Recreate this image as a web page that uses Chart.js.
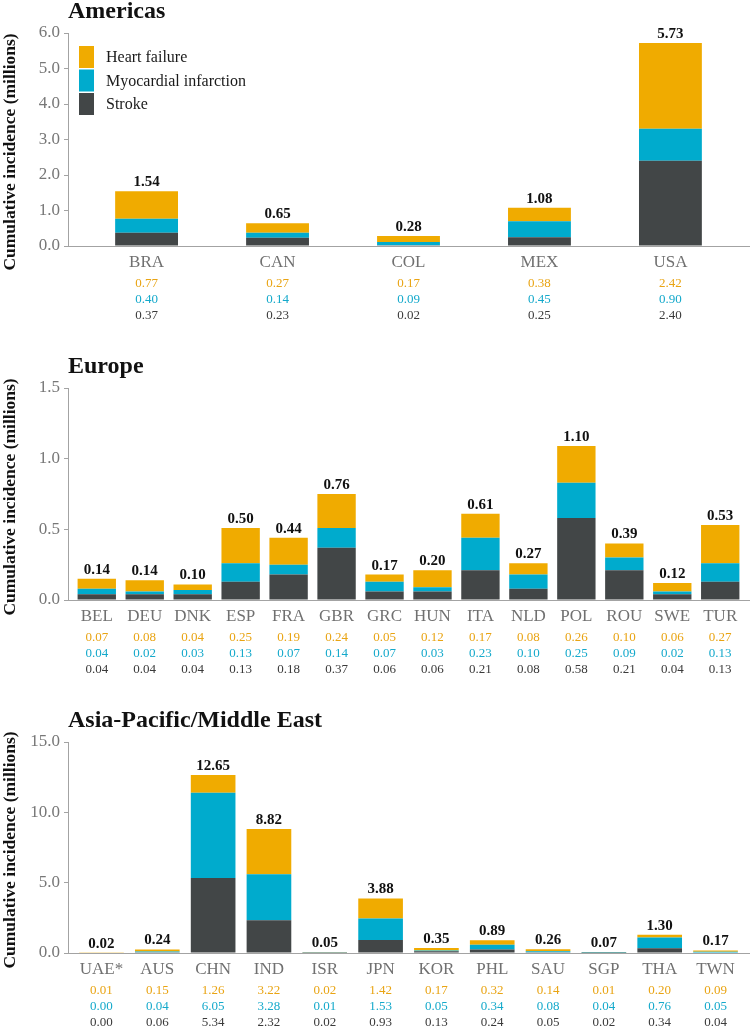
<!DOCTYPE html>
<html><head><meta charset="utf-8">
<script src="https://cdn.jsdelivr.net/npm/chart.js@4"></script>
<style>html,body{margin:0;padding:0;background:#fff;} canvas{position:absolute;left:0;}</style>
</head><body>
<canvas id="c1" style="top:0px" width="750" height="330"></canvas>
<canvas id="c2" style="top:330px" width="750" height="360"></canvas>
<canvas id="c3" style="top:690px" width="750" height="340"></canvas>
<script>
// ---------- DATA ----------
const seriesNames = ['Heart failure', 'Myocardial infarction', 'Stroke'];

const americasCategories = ['BRA', 'CAN', 'COL', 'MEX', 'USA'];
const americasHeartFailure = [0.77, 0.27, 0.17, 0.38, 2.42];
const americasMI = [0.40, 0.14, 0.09, 0.45, 0.90];
const americasStroke = [0.37, 0.23, 0.02, 0.25, 2.40];
const americasTotals = [1.54, 0.65, 0.28, 1.08, 5.73];
const americasYTicks = [0, 1, 2, 3, 4, 5, 6];

const europeCategories = ['BEL', 'DEU', 'DNK', 'ESP', 'FRA', 'GBR', 'GRC', 'HUN', 'ITA', 'NLD', 'POL', 'ROU', 'SWE', 'TUR'];
const europeHeartFailure = [0.07, 0.08, 0.04, 0.25, 0.19, 0.24, 0.05, 0.12, 0.17, 0.08, 0.26, 0.10, 0.06, 0.27];
const europeMI = [0.04, 0.02, 0.03, 0.13, 0.07, 0.14, 0.07, 0.03, 0.23, 0.10, 0.25, 0.09, 0.02, 0.13];
const europeStroke = [0.04, 0.04, 0.04, 0.13, 0.18, 0.37, 0.06, 0.06, 0.21, 0.08, 0.58, 0.21, 0.04, 0.13];
const europeTotals = [0.14, 0.14, 0.10, 0.50, 0.44, 0.76, 0.17, 0.20, 0.61, 0.27, 1.10, 0.39, 0.12, 0.53];
const europeYTicks = [0, 0.5, 1.0, 1.5];

const asiaCategories = ['UAE*', 'AUS', 'CHN', 'IND', 'ISR', 'JPN', 'KOR', 'PHL', 'SAU', 'SGP', 'THA', 'TWN'];
const asiaHeartFailure = [0.01, 0.15, 1.26, 3.22, 0.02, 1.42, 0.17, 0.32, 0.14, 0.01, 0.20, 0.09];
const asiaMI = [0.00, 0.04, 6.05, 3.28, 0.01, 1.53, 0.05, 0.34, 0.08, 0.04, 0.76, 0.05];
const asiaStroke = [0.00, 0.06, 5.34, 2.32, 0.02, 0.93, 0.13, 0.24, 0.05, 0.02, 0.34, 0.04];
const asiaTotals = [0.02, 0.24, 12.65, 8.82, 0.05, 3.88, 0.35, 0.89, 0.26, 0.07, 1.30, 0.17];
const asiaYTicks = [0, 5, 10, 15];

// ---------- STYLE ----------
const SERIF = '"Liberation Serif", "Times New Roman", serif';
const BAR = { hf: '#F0AB00', mi: '#00ABCD', stroke: '#424647' };
const TXT = { hf: '#E9A413', mi: '#14A9CB', stroke: '#3a3a3a' };
const AXIS = '#a3a3a3';

function pts(values) { return values.map((v, i) => ({ x: i, y: v })); }

function textPlugin(p) {
  return {
    id: 'texts',
    afterDraw(chart) {
      const ctx = chart.ctx;
      const xs = chart.scales.x;
      const area = chart.chartArea;
      ctx.save();
      // Title
      ctx.fillStyle = '#111';
      ctx.font = 'bold 24px ' + SERIF;
      ctx.textAlign = 'left';
      ctx.textBaseline = 'alphabetic';
      ctx.fillText(p.title, area.left, area.top - 15);
      // Y axis title
      ctx.save();
      ctx.translate(10, p.yTitleCenter);
      ctx.rotate(-Math.PI / 2);
      ctx.font = 'bold 17.5px ' + SERIF;
      ctx.textAlign = 'center';
      ctx.textBaseline = 'middle';
      ctx.fillText('Cumulative incidence (millions)', 0, 0);
      ctx.restore();
      // totals above bars
      const topMeta = chart.getDatasetMeta(2);
      ctx.font = 'bold 15px ' + SERIF;
      ctx.fillStyle = '#111';
      ctx.textAlign = 'center';
      ctx.textBaseline = 'alphabetic';
      p.totals.forEach((t, i) => {
        const el = topMeta.data[i];
        ctx.fillText(t.toFixed(2), el.x, el.y - 5);
      });
      // category labels and value rows
      ctx.textBaseline = 'middle';
      p.categories.forEach((c, i) => {
        const x = xs.getPixelForValue(i);
        ctx.font = '17px ' + SERIF;
        ctx.fillStyle = '#707070';
        ctx.fillText(c, x, area.bottom + 17);
        ctx.font = '13px ' + SERIF;
        ctx.fillStyle = TXT.hf;
        ctx.fillText(p.hf[i].toFixed(2), x, area.bottom + 37.5);
        ctx.fillStyle = TXT.mi;
        ctx.fillText(p.mi[i].toFixed(2), x, area.bottom + 53.5);
        ctx.fillStyle = TXT.stroke;
        ctx.fillText(p.stroke[i].toFixed(2), x, area.bottom + 69.5);
      });
      // legend
      if (p.legend) {
        const items = [[seriesNames[0], BAR.hf], [seriesNames[1], BAR.mi], [seriesNames[2], BAR.stroke]];
        ctx.font = '16px ' + SERIF;
        ctx.textAlign = 'left';
        items.forEach((it, k) => {
          const y0 = 46 + k * 23.5;
          ctx.fillStyle = it[1];
          ctx.fillRect(79, y0, 15, 22);
          ctx.fillStyle = '#1a1a1a';
          ctx.fillText(it[0], 106, y0 + 12);
        });
      }
      ctx.restore();
    }
  };
}

function makePanel(id, p) {
  const canvas = document.getElementById(id);
  const H = canvas.height;
  const n = p.categories.length;
  new Chart(canvas, {
    type: 'bar',
    data: {
      datasets: [
        { label: seriesNames[2], data: pts(p.stroke), backgroundColor: BAR.stroke },
        { label: seriesNames[1], data: pts(p.mi), backgroundColor: BAR.mi },
        { label: seriesNames[0], data: pts(p.hf), backgroundColor: BAR.hf }
      ]
    },
    options: {
      responsive: false,
      animation: false,
      layout: { padding: { top: p.top, right: 1, left: 0, bottom: 0 } },
      plugins: { legend: { display: false }, tooltip: { enabled: false }, title: { display: false } },
      datasets: { bar: { barPercentage: 0.8, categoryPercentage: 1, borderWidth: 0 } },
      scales: {
        x: {
          type: 'linear', stacked: true, offset: false, min: -0.6, max: n - 0.4,
          ticks: { display: false }, grid: { display: false },
          border: { display: true, color: AXIS, width: 1 },
          afterFit(s) { s.height = H - p.bottom; }
        },
        y: {
          stacked: true, min: 0, max: p.yTicks[p.yTicks.length - 1],
          afterBuildTicks(s) { s.ticks = p.yTicks.map(v => ({ value: v })); },
          ticks: { callback: v => Number(v).toFixed(1), color: '#777', font: { family: SERIF, size: 17 }, padding: 4 },
          grid: { drawOnChartArea: false, drawTicks: true, tickLength: 4, color: AXIS },
          border: { display: true, color: AXIS, width: 1 },
          afterFit(s) { s.width = 68; }
        }
      }
    },
    plugins: [textPlugin(p)]
  });
}

makePanel('c1', { title: 'Americas', categories: americasCategories, hf: americasHeartFailure, mi: americasMI, stroke: americasStroke, totals: americasTotals, yTicks: americasYTicks, top: 33, bottom: 246, yTitleCenter: 152, legend: true });
makePanel('c2', { title: 'Europe', categories: europeCategories, hf: europeHeartFailure, mi: europeMI, stroke: europeStroke, totals: europeTotals, yTicks: europeYTicks, top: 58, bottom: 270, yTitleCenter: 167, legend: false });
makePanel('c3', { title: 'Asia-Pacific/Middle East', categories: asiaCategories, hf: asiaHeartFailure, mi: asiaMI, stroke: asiaStroke, totals: asiaTotals, yTicks: asiaYTicks, top: 52, bottom: 263, yTitleCenter: 160, legend: false });
</script>
</body></html>
